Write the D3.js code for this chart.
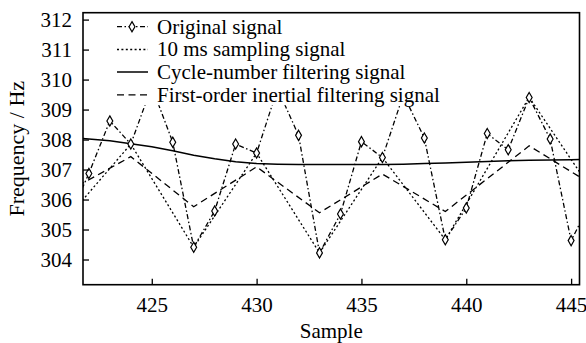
<!DOCTYPE html>
<html><head><meta charset="utf-8">
<script src="https://cdn.jsdelivr.net/npm/d3@7"></script>
<style>body{margin:0;background:#fff}svg{display:block}</style>
</head><body>
<svg id="c" width="586" height="343"></svg>
<script>
const samples = d3.range(421, 447);
const originalSignal = [305.3, 306.87, 308.62, 307.85, 309.77, 307.91, 304.41, 305.62, 307.85, 307.55, 309.7, 308.14, 304.22, 305.52, 307.93, 307.40, 309.5, 308.05, 304.66, 305.72, 308.2, 307.66, 309.4, 308.02, 304.63, 306.0];
const samplingX = [421, 424, 427, 430, 433, 436, 439, 443, 446];
const samplingSignal = [305.41, 307.85, 304.41, 307.55, 304.22, 307.40, 304.66, 309.41, 306.3];
const inertialSignal = [306.27, 307.43, 305.76, 307.09, 305.56, 306.85, 305.6, 307.79, 306.5];
const cycleSignal = [308.06, 308.02, 307.96, 307.86, 307.76, 307.63, 307.48, 307.36, 307.26, 307.2, 307.18, 307.17, 307.17, 307.17, 307.17, 307.17, 307.18, 307.2, 307.22, 307.24, 307.27, 307.29, 307.31, 307.32, 307.33, 307.34];
const xTicks = [425, 430, 435, 440, 445];
const yTicks = [304, 305, 306, 307, 308, 309, 310, 311, 312];
const legendLabels = ["Original signal", "10 ms sampling signal", "Cycle-number filtering signal", "First-order inertial filtering signal"];

const L = 83, R = 579.5, T = 12.7, B = 284.7;
const x = d3.scaleLinear().domain([421.72, 445.4]).range([L, R]);
const y = d3.scaleLinear().domain([303.16, 312.23]).range([B, T]);
const svg = d3.select("#c");

function serif(sel, size) {
  return sel.attr("font-family", "Liberation Serif").attr("font-size", size)
    .style("font-family", '"Liberation Serif"').attr("fill", "#000");
}

svg.append("clipPath").attr("id", "clip").append("rect")
  .attr("x", L).attr("y", T).attr("width", R - L).attr("height", B - T);

const styles = {
  orig: "5,2.5,1.5,2.5",
  samp: "2,2.4",
  cycle: null,
  inert: "7,4.5"
};

const g = svg.append("g").attr("clip-path", "url(#clip)");
const line = d3.line().x(d => x(d[0])).y(d => y(d[1]));

function drawLine(xs, ys, dash, w) {
  g.append("path").datum(xs.map((s, i) => [s, ys[i]]))
    .attr("d", line).attr("fill", "none").attr("stroke", "#000")
    .attr("stroke-width", w).attr("stroke-dasharray", dash);
}
drawLine(samplingX, samplingSignal, styles.samp, 1.3);
drawLine(samplingX, inertialSignal, styles.inert, 1.3);
drawLine(samples, cycleSignal, styles.cycle, 1.5);
drawLine(samples, originalSignal, styles.orig, 1.3);

const diamond = d3.symbol().type(d3.symbolDiamond).size(30);
g.selectAll(".mk").data(samples.map((s, i) => [s, originalSignal[i]]).filter(d => d[0] >= 422 && d[0] <= 445))
  .enter().append("path").attr("class", "mk")
  .attr("transform", d => `translate(${x(d[0])},${y(d[1])})`)
  .attr("d", diamond).attr("fill", "#fff").attr("stroke", "#000").attr("stroke-width", 1.2);

// axes
const xAxis = d3.axisBottom(x).tickValues(xTicks).tickSizeInner(-6).tickSizeOuter(0).tickPadding(12);
const yAxis = d3.axisLeft(y).tickValues(yTicks).tickSizeInner(-6).tickSizeOuter(0).tickPadding(11);
const gx = svg.append("g").attr("transform", `translate(0,${B})`).call(xAxis);
const gy = svg.append("g").attr("transform", `translate(${L},0)`).call(yAxis);
[gx, gy].forEach(a => {
  serif(a, 21);
  a.select(".domain").remove();
  a.selectAll("line").attr("stroke", "#000").attr("stroke-width", 1.3);
  serif(a.selectAll("text"), 21);
});

// legend
const lg = svg.append("g");
lg.append("rect").attr("x", 108).attr("y", T + 1.5).attr("width", 340).attr("height", 91).attr("fill", "#fff");
const rowY = [26.7, 49.5, 72, 94.8];
const keys = ["orig", "samp", "cycle", "inert"];
keys.forEach((k, i) => {
  lg.append("line").attr("x1", 117).attr("x2", 148).attr("y1", rowY[i]).attr("y2", rowY[i])
    .attr("stroke", "#000").attr("stroke-width", k === "cycle" ? 1.5 : 1.3).attr("stroke-dasharray", styles[k]);
  if (k === "orig") lg.append("path").attr("transform", `translate(132,${rowY[i]})`).attr("d", diamond)
    .attr("fill", "#fff").attr("stroke", "#000").attr("stroke-width", 1.2);
  serif(lg.append("text").attr("x", 157).attr("y", rowY[i]).attr("dy", "0.33em"), 21).text(legendLabels[i]);
});

// frame
svg.append("rect").attr("x", L).attr("y", T).attr("width", R - L).attr("height", B - T)
  .attr("fill", "none").attr("stroke", "#000").attr("stroke-width", 1.6);

serif(svg.append("text").attr("x", (L + R) / 2).attr("y", 338).attr("text-anchor", "middle"), 21).text("Sample");
serif(svg.append("text").attr("transform", `translate(24,${(T + B) / 2}) rotate(-90)`).attr("text-anchor", "middle"), 22).text("Frequency / Hz");
</script>
</body></html>
